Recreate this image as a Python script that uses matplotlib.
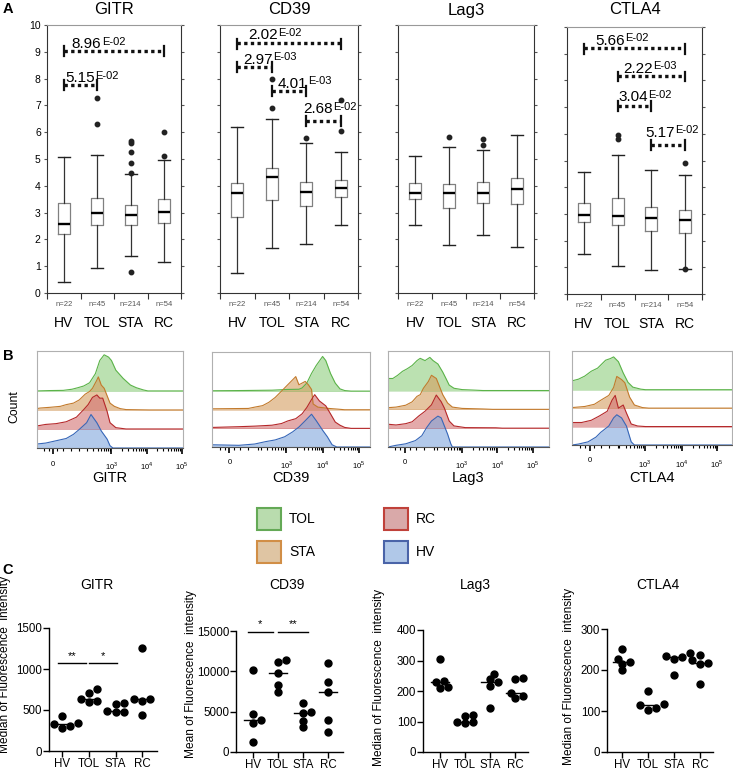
import numpy as np
import matplotlib
matplotlib.use('Agg')
import matplotlib.pyplot as plt
from matplotlib.patches import Patch

plt.rcParams['font.family'] = ['Liberation Sans', 'DejaVu Sans']
plt.rcParams['mathtext.fontset'] = 'custom'
plt.rcParams['mathtext.rm'] = 'Liberation Sans'

W, H = 733, 777
fig = plt.figure(figsize=(W / 100, H / 100), dpi=100)


def add_ax(l, r, t, b):
    # axes placed by pixel edges
    return fig.add_axes([l / W, 1 - b / H, (r - l) / W, (b - t) / H])


def ftxt(x, y, s, **kw):
    return fig.text(x / W, 1 - y / H, s, **kw)


groups = ['HV', 'TOL', 'STA', 'RC']
group_n = ['n=22', 'n=45', 'n=214', 'n=54']
markers = ['GITR', 'CD39', 'Lag3', 'CTLA4']

# ---------------- A : box plots (HV, TOL, STA, RC)
gitr_lo = [0.40, 0.95, 1.38, 1.16]
gitr_q1 = [2.19, 2.54, 2.55, 2.60]
gitr_med = [2.57, 2.97, 2.91, 3.02]
gitr_q3 = [3.35, 3.53, 3.30, 3.51]
gitr_hi = [5.09, 5.15, 4.44, 4.96]
gitr_out = [[], [6.31, 7.26], [0.80, 4.49, 4.86, 5.27, 5.61, 5.67], [5.12, 6.02]]

cd39_lo = [0.76, 1.67, 1.82, 2.54]
cd39_q1 = [2.82, 3.47, 3.25, 3.59]
cd39_med = [3.72, 4.32, 3.76, 3.91]
cd39_q3 = [4.12, 4.65, 4.13, 4.22]
cd39_hi = [6.21, 6.48, 5.58, 5.27]
cd39_out = [[], [6.92, 7.98], [5.80], [6.06, 7.20]]

lag3_lo = [2.54, 1.78, 2.15, 1.73]
lag3_q1 = [3.52, 3.16, 3.35, 3.32]
lag3_med = [3.74, 3.74, 3.74, 3.89]
lag3_q3 = [4.12, 4.07, 4.13, 4.30]
lag3_hi = [5.11, 5.46, 5.34, 5.88]
lag3_out = [[], [5.83], [5.52, 5.76], []]

ctla4_lo = [1.51, 1.04, 0.91, 0.94]
ctla4_q1 = [2.69, 2.59, 2.35, 2.29]
ctla4_med = [2.95, 2.93, 2.83, 2.76]
ctla4_q3 = [3.41, 3.60, 3.25, 3.13]
ctla4_hi = [4.56, 5.21, 4.66, 4.46]
ctla4_out = [[], [5.81, 5.94], [], [0.94, 4.91]]

# p-value brackets: (from group, to group, level, value, exponent)
gitr_sig = [(1, 4, 9.03, '8.96', 'E-02'), (1, 2, 7.76, '5.15', 'E-02')]
cd39_sig = [(1, 4, 9.32, '2.02', 'E-02'), (1, 2, 8.45, '2.97', 'E-03'),
            (2, 3, 7.54, '4.01', 'E-03'), (3, 4, 6.43, '2.68', 'E-02')]
lag3_sig = []
ctla4_sig = [(1, 4, 9.20, '5.66', 'E-02'), (2, 4, 8.16, '2.22', 'E-03'),
             (2, 3, 7.04, '3.04', 'E-02'), (3, 4, 5.58, '5.17', 'E-02')]
# label placement (x start, lift above bracket)
gitr_sig_pos = [(1.24, 0.10), (1.04, 0.10)]
cd39_sig_pos = [(1.31, 0.15), (1.17, 0.10), (2.18, 0.12), (2.90, 0.27)]
lag3_sig_pos = []
ctla4_sig_pos = [(1.33, 0.12), (2.16, 0.12), (2.01, 0.17), (2.81, 0.30)]

# ---------------- B : histogram outlines, (position fraction, height in layer units)
gitr_tol = [(0, 0), (0.09, 0.02), (0.18, 0.03), (0.24, 0.09), (0.28, 0.17), (0.32, 0.26),
            (0.36, 0.43), (0.40, 0.91), (0.43, 1.60), (0.46, 1.90), (0.49, 1.78), (0.51, 1.60),
            (0.54, 1.09), (0.59, 0.66), (0.64, 0.31), (0.68, 0.17), (0.73, 0.05), (0.76, 0), (1, 0)]
gitr_sta = [(0, 0.07), (0.02, 0.10), (0.09, 0.14), (0.16, 0.19), (0.20, 0.28), (0.25, 0.36),
            (0.29, 0.53), (0.33, 0.83), (0.36, 0.97), (0.38, 1.14), (0.41, 1.57), (0.42, 1.74),
            (0.44, 1.31), (0.46, 1.14), (0.50, 0.36), (0.53, 0.19), (0.57, 0.07), (0.61, 0.02),
            (0.77, 0), (1, 0)]
gitr_rc = [(0, 0.16), (0.06, 0.24), (0.13, 0.28), (0.20, 0.38), (0.27, 0.62), (0.32, 1.02),
           (0.35, 1.28), (0.38, 1.66), (0.41, 1.79), (0.43, 1.62), (0.45, 1.62), (0.48, 0.93),
           (0.50, 0.33), (0.54, 0.07), (0.61, 0), (1, 0)]
gitr_hv = [(0, 0.21), (0.06, 0.26), (0.13, 0.38), (0.20, 0.50), (0.25, 0.72), (0.29, 0.98),
           (0.34, 1.33), (0.37, 1.76), (0.41, 1.33), (0.44, 0.90), (0.48, 0.47), (0.50, 0.12),
           (0.52, 0), (1, 0)]

cd39_tol = [(0, 0.02), (0.17, 0.03), (0.38, 0.05), (0.48, 0.09), (0.55, 0.10), (0.57, 0.17),
            (0.60, 0.43), (0.63, 0.95), (0.66, 1.38), (0.70, 1.86), (0.72, 1.64), (0.75, 0.95),
            (0.78, 0.43), (0.81, 0.12), (0.84, 0.03), (0.88, 0), (1, 0)]
cd39_sta = [(0, 0.05), (0.23, 0.07), (0.27, 0.14), (0.32, 0.22), (0.36, 0.40), (0.40, 0.66),
            (0.44, 1.00), (0.47, 1.26), (0.52, 1.69), (0.53, 1.78), (0.55, 1.34), (0.59, 1.52),
            (0.61, 1.34), (0.63, 1.09), (0.64, 0.31), (0.67, 0.14), (0.74, 0.07), (0.80, 0.03),
            (0.84, 0), (1, 0)]
cd39_rc = [(0, 0.05), (0.17, 0.09), (0.27, 0.12), (0.38, 0.17), (0.44, 0.26), (0.48, 0.40),
           (0.53, 0.52), (0.57, 0.78), (0.60, 1.12), (0.63, 1.55), (0.65, 1.81), (0.68, 1.47),
           (0.72, 1.21), (0.75, 0.78), (0.78, 0.34), (0.81, 0.17), (0.84, 0.05), (0.88, 0), (1, 0)]
cd39_hv = [(0, 0.12), (0.17, 0.09), (0.27, 0.16), (0.34, 0.29), (0.40, 0.38), (0.46, 0.55),
           (0.51, 0.81), (0.55, 1.07), (0.59, 1.41), (0.63, 1.76), (0.66, 1.41), (0.70, 0.90),
           (0.73, 0.55), (0.76, 0.12), (0.79, 0), (1, 0)]

lag3_tol = [(0, 0.64), (0.03, 0.64), (0.06, 0.81), (0.09, 1.02), (0.12, 1.16), (0.15, 1.33),
            (0.18, 1.59), (0.20, 1.71), (0.23, 1.59), (0.26, 1.76), (0.28, 1.59), (0.31, 1.41),
            (0.34, 0.98), (0.36, 0.64), (0.38, 0.29), (0.41, 0.12), (0.46, 0.05), (0.54, 0.02),
            (0.59, 0), (1, 0)]
lag3_sta = [(0, 0.09), (0.05, 0.12), (0.11, 0.22), (0.15, 0.40), (0.18, 0.69), (0.20, 0.78),
            (0.22, 1.12), (0.25, 1.47), (0.27, 1.81), (0.30, 1.64), (0.32, 1.21), (0.34, 0.78),
            (0.37, 0.34), (0.40, 0.12), (0.46, 0.05), (0.59, 0.02), (0.65, 0), (1, 0)]
lag3_rc = [(0, 0.21), (0.05, 0.17), (0.11, 0.24), (0.15, 0.34), (0.19, 0.64), (0.23, 0.90),
           (0.27, 1.24), (0.30, 1.76), (0.33, 1.41), (0.35, 1.07), (0.38, 0.38), (0.41, 0.12),
           (0.48, 0.03), (0.67, 0.02), (0.71, 0), (1, 0)]
lag3_hv = [(0, 0), (0.05, 0.09), (0.11, 0.17), (0.17, 0.34), (0.21, 0.60), (0.24, 1.03),
           (0.27, 1.38), (0.31, 1.64), (0.33, 1.55), (0.35, 1.12), (0.37, 0.69), (0.39, 0.17),
           (0.40, 0), (1, 0)]

ctla4_tol = [(0, 0.48), (0.04, 0.57), (0.08, 0.74), (0.12, 1.00), (0.16, 1.17), (0.21, 1.60),
             (0.24, 1.69), (0.26, 1.78), (0.29, 1.52), (0.32, 0.91), (0.35, 0.40), (0.38, 0.14),
             (0.43, 0.03), (0.46, 0), (1, 0)]
ctla4_sta = [(0, 0.03), (0.08, 0.09), (0.14, 0.21), (0.18, 0.43), (0.23, 0.69), (0.26, 1.12),
             (0.28, 1.72), (0.31, 1.55), (0.33, 1.38), (0.36, 0.60), (0.39, 0.17), (0.44, 0.03),
             (0.48, 0), (1, 0)]
ctla4_rc = [(0, 0.22), (0.06, 0.22), (0.12, 0.34), (0.17, 0.57), (0.22, 0.83), (0.25, 1.43),
            (0.27, 1.69), (0.29, 1.00), (0.32, 1.17), (0.34, 0.74), (0.37, 0.14), (0.41, 0.03),
            (0.46, 0), (1, 0)]
ctla4_hv = [(0, 0), (0.04, 0.05), (0.10, 0.17), (0.15, 0.43), (0.18, 0.69), (0.23, 1.03),
            (0.26, 1.47), (0.28, 1.64), (0.31, 1.47), (0.34, 1.03), (0.37, 0.17), (0.39, 0),
            (1, 0)]

# axis label positions of 0, 10^3, 10^4, 10^5 (fraction of width)
hist_ticks = {'GITR': [0.11, 0.51, 0.75, 0.99], 'CD39': [0.11, 0.47, 0.70, 0.93],
              'Lag3': [0.106, 0.46, 0.68, 0.90], 'CTLA4': [0.11, 0.456, 0.686, 0.906]}
hist_tick_labels = ['0', r'$10^3$', r'$10^4$', r'$10^5$']

# ---------------- C : MFI per donor
gitr_mfi = [[275, 310, 330, 345, 425], [600, 610, 640, 710, 755],
            [478, 480, 482, 575, 580], [440, 605, 630, 640, 1260]]
cd39_mfi = [[1300, 3600, 4000, 4700, 10200], [7500, 8300, 9850, 11100, 11400],
            [3050, 3900, 4850, 5000, 6050], [2450, 4000, 7500, 8700, 11000]]
lag3_mfi = [[210, 213, 228, 234, 304], [95, 97, 98, 117, 122],
            [144, 217, 231, 240, 256], [178, 182, 195, 238, 242]]
ctla4_mfi = [[199, 215, 219, 227, 252], [103, 107, 114, 118, 150],
             [188, 228, 232, 234, 241], [165, 215, 218, 225, 236]]
gitr_stars = [(1, 2, 1072, '**'), (2, 3, 1072, '*')]
cd39_stars = [(1, 2, 14900, '*'), (2, 3, 14900, '**')]
gitr_star_x = [(0.86, 1.90), (2.02, 3.07)]
cd39_star_x = [(0.80, 1.79), (2.00, 3.20)]
c_ylabels = ['Median of Fluorescence  intensity', 'Mean of Fluorescence  intensity',
             'Median of Fluorescence  intensity', 'Median of Fluorescence  intensity']

layer_face = ['#8fcd7e', '#d59d5f', '#d27272', '#7fa6dc']
layer_edge = ['#5bb349', '#c27a2c', '#b5282a', '#3767b8']
legend_face = ['#b9dcae', '#dfc5a3', '#d9a9a9', '#b0c8e8']
legend_edge = ['#64a956', '#d18e46', '#c0413a', '#4a64a8']

# ======================= A
a_boxes = [
    (gitr_lo, gitr_q1, gitr_med, gitr_q3, gitr_hi, gitr_out, gitr_sig, gitr_sig_pos),
    (cd39_lo, cd39_q1, cd39_med, cd39_q3, cd39_hi, cd39_out, cd39_sig, cd39_sig_pos),
    (lag3_lo, lag3_q1, lag3_med, lag3_q3, lag3_hi, lag3_out, lag3_sig, lag3_sig_pos),
    (ctla4_lo, ctla4_q1, ctla4_med, ctla4_q3, ctla4_hi, ctla4_out, ctla4_sig, ctla4_sig_pos),
]
a_rects = [(47, 181, 25, 293), (220, 358, 25, 293), (398, 534, 25, 293), (567, 702, 27, 294)]

for k, (name, box, rect) in enumerate(zip(markers, a_boxes, a_rects)):
    lo, q1, med, q3, hi, out, sig, sig_pos = box
    ax = add_ax(*rect)
    stats = [dict(whislo=lo[i], q1=q1[i], med=med[i], q3=q3[i], whishi=hi[i], fliers=out[i])
             for i in range(4)]
    ax.bxp(stats, positions=[1, 2, 3, 4], widths=0.36, capwidths=0.36,
           boxprops=dict(color='#808080', lw=0.9),
           whiskerprops=dict(color='#333333', lw=0.9),
           capprops=dict(color='#222222', lw=1.0),
           medianprops=dict(color='black', lw=1.7),
           flierprops=dict(marker='o', markersize=3.2, markerfacecolor='#222222',
                           markeredgecolor='#222222'))
    ax.set_xlim(0.5, 4.5)
    ax.set_ylim(0, 10)
    ax.set_xticks([0.5, 1.5, 2.5, 3.5, 4.5])
    ax.set_xticklabels([])
    ax.set_yticks(range(11))
    ax.tick_params(axis='x', direction='out', length=4, width=0.8, color='#333333')
    ax.tick_params(axis='y', direction='out', length=2.5, width=0.8, color='#555555',
                   right=True, labelsize=7.5, pad=2, labelleft=(k == 0))
    for side in ['left', 'right', 'bottom']:
        ax.spines[side].set_color('#333333')
        ax.spines[side].set_linewidth(0.8)
    ax.spines['top'].set_color('#999999')
    ax.spines['top'].set_linewidth(0.8)
    for (a, b, y, num, ex), (tx, dy) in zip(sig, sig_pos):
        ax.plot([a, b], [y, y], color='#111111', lw=2.4, ls=(0, (1, 1)), clip_on=False)
        for xe in (a, b):
            ax.plot([xe, xe], [y - 0.2, y + 0.17], color='#111111', lw=1.6, clip_on=False)
        t = ax.text(tx, y + dy, num, fontsize=11, ha='left', va='baseline', clip_on=False)
        ax.annotate(ex, xy=(1, 1), xycoords=t, xytext=(0.3, 0.5), textcoords='offset points',
                    fontsize=8, ha='left', va='top')
    for i, g in enumerate(groups):
        ax.text(i + 1, -12 / 268 * 10, group_n[i], ha='center', va='center', fontsize=5.5,
                color='#555555', clip_on=False)
        ax.text(i + 1, -30 / 268 * 10, g, ha='center', va='center', fontsize=10, clip_on=False)
    ftxt((rect[0] + rect[1]) / 2, 10, name, ha='center', va='center', fontsize=12)

ftxt(8, 9, 'A', fontsize=10.5, fontweight='bold', ha='center', va='center')

# ======================= B
b_curves = [
    (gitr_tol, gitr_sta, gitr_rc, gitr_hv),
    (cd39_tol, cd39_sta, cd39_rc, cd39_hv),
    (lag3_tol, lag3_sta, lag3_rc, lag3_hv),
    (ctla4_tol, ctla4_sta, ctla4_rc, ctla4_hv),
]
b_rects = [(37, 183, 351, 448), (212, 370, 352, 447), (388, 549, 351, 447), (572, 732, 351, 445)]

for name, curves, rect in zip(markers, b_curves, b_rects):
    ax = add_ax(*rect)
    for j, pts in enumerate(curves):
        base = 3 - j
        xs = [p[0] for p in pts]
        ys = [base + p[1] for p in pts]
        ax.axhline(base, color=layer_edge[j], lw=0.6, alpha=0.3)
        ax.fill_between(xs, base, ys, color=layer_face[j], alpha=0.6, lw=0)
        ax.plot(xs, ys, color=layer_edge[j], lw=0.8)
    ax.set_xlim(0, 1)
    ax.set_ylim(0, 5.1)
    ax.set_yticks([])
    p0, p3, p4, p5 = hist_ticks[name]
    dec = p4 - p3
    minor = [p0 - 0.06, p0 - 0.03, p0 + 0.03, p0 + 0.07, p0 + 0.12, p0 + 0.18]
    for start in (p3 - dec, p3, p4):
        minor += [start + np.log10(m) * dec for m in range(2, 10)]
    minor = [m for m in minor if 0 < m < 1]
    ax.set_xticks(hist_ticks[name])
    ax.set_xticklabels(hist_tick_labels)
    ax.set_xticks(minor, minor=True)
    ax.tick_params(axis='x', which='major', direction='out', length=4, width=1.2, labelsize=5.5,
                   pad=5)
    ax.tick_params(axis='x', which='minor', direction='out', length=2.5, width=0.8)
    for side in ['left', 'right', 'top']:
        ax.spines[side].set_color('#b0b0b0')
        ax.spines[side].set_linewidth(0.8)
    ax.spines['bottom'].set_color('#555555')
    ax.spines['bottom'].set_linewidth(0.8)
    ftxt((rect[0] + rect[1]) / 2, 478, name, ha='center', va='center', fontsize=10.5)

ftxt(8, 356, 'B', fontsize=10.5, fontweight='bold', ha='center', va='center')
ftxt(14, 407, 'Count', rotation=90, ha='center', va='center', fontsize=8.8)

# legend
handles = [Patch(facecolor=legend_face[j], edgecolor=legend_edge[j], lw=1.5, label=g)
           for j, g in enumerate(['TOL', 'STA', 'RC', 'HV'])]
fig.legend(handles=handles, ncol=2, loc='upper left', bbox_to_anchor=(257 / W, 1 - 508 / H),
           frameon=False, fontsize=10, handlelength=1.75, handleheight=2.05,
           handletextpad=0.55, labelspacing=0.8, columnspacing=4.9, borderpad=0,
           borderaxespad=0)

# ======================= C
c_data = [gitr_mfi, cd39_mfi, lag3_mfi, ctla4_mfi]
c_stars = [(gitr_stars, gitr_star_x), (cd39_stars, cd39_star_x), ([], []), ([], [])]
c_rects = [(49, 157, 628, 751), (236, 343, 631, 752), (423, 528, 630, 752), (607, 713, 629, 752)]
c_xlim = [(0.51, 4.55), (0.32, 4.6), (0.32, 4.52), (0.42, 4.5)]
c_ymax = [1500, 15000, 400, 300]
c_yticks = [[0, 500, 1000, 1500], [0, 5000, 10000, 15000], [0, 100, 200, 300, 400],
            [0, 100, 200, 300]]
c_title_x = [97, 287, 475, 658]
c_ylab = [(5, 576), (191, 590), (379, 589), (569, 588)]


def swarm(vals, ypx, xpx, d=6.6):
    # simple beeswarm: offsets (data units) so dots do not overlap
    order = np.argsort(vals)
    placed = []
    offs = np.zeros(len(vals))
    for i in order:
        y = vals[i] * ypx
        for j in [0, 1, -1, 2, -2, 3, -3, 4, -4]:
            x = j * d * 0.62
            if all((x - px) ** 2 + (y - py) ** 2 >= (d * 0.95) ** 2 for px, py in placed):
                break
        placed.append((x, y))
        offs[i] = x / xpx
    return offs


for k, (name, data, rect) in enumerate(zip(markers, c_data, c_rects)):
    ax = add_ax(*rect)
    ax.set_xlim(*c_xlim[k])
    ax.set_ylim(0, c_ymax[k])
    ypx = (rect[3] - rect[2]) / c_ymax[k]
    xpx = (rect[1] - rect[0]) / (c_xlim[k][1] - c_xlim[k][0])
    for i, vals in enumerate(data):
        vals = np.array(vals, dtype=float)
        offs = swarm(vals, ypx, xpx)
        ax.plot(i + 1 + offs, vals, 'o', color='black', markersize=5, clip_on=False, zorder=3)
        m = np.median(vals)
        ax.plot([i + 1 - 0.36, i + 1 + 0.36], [m, m], color='black', lw=1.0, zorder=2)
    stars, star_x = c_stars[k]
    for (a, b, y, s), (x0, x1) in zip(stars, star_x):
        ax.plot([x0, x1], [y, y], color='black', lw=1.0, clip_on=False)
        ax.text((x0 + x1) / 2, y + 0.02 * c_ymax[k], s, ha='center', va='bottom', fontsize=8,
                clip_on=False)
    ax.set_xticks([1, 2, 3, 4])
    ax.set_xticklabels(groups, fontsize=8.3)
    ax.set_yticks(c_yticks[k])
    ax.set_yticklabels([str(v) for v in c_yticks[k]], fontsize=8.3)
    ax.tick_params(direction='out', length=4, width=1.0, pad=1)
    ax.spines['top'].set_visible(False)
    ax.spines['right'].set_visible(False)
    for side in ['left', 'bottom']:
        ax.spines[side].set_linewidth(1.0)
    ftxt(c_title_x[k], 585, name, ha='center', va='center', fontsize=10)
    ftxt(c_ylab[k][0], c_ylab[k][1], c_ylabels[k], rotation=90, ha='center', va='top',
         fontsize=8.6)

ftxt(8, 570, 'C', fontsize=10.5, fontweight='bold', ha='center', va='center')

fig.savefig('out.png', dpi=100)
